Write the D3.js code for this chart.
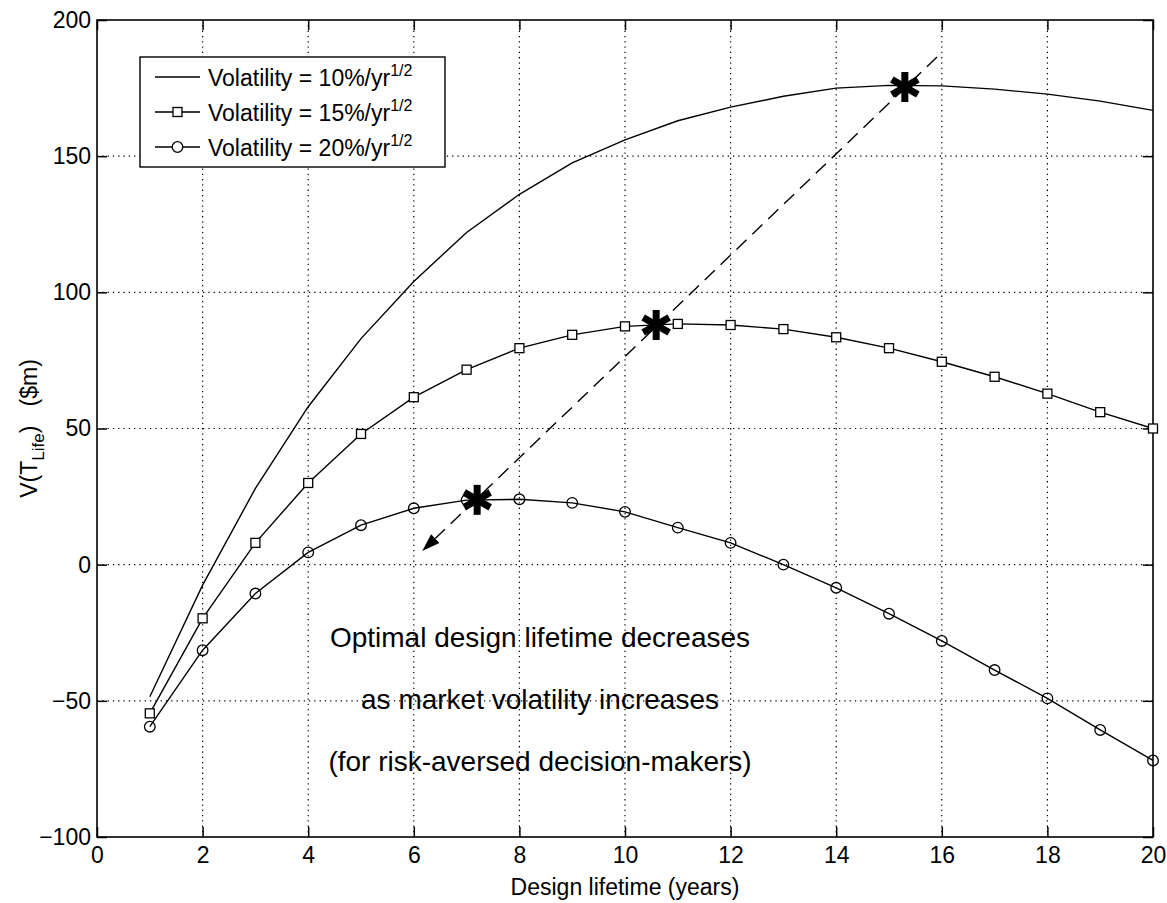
<!DOCTYPE html>
<html><head><meta charset="utf-8">
<script src="https://cdn.jsdelivr.net/npm/d3@7"></script>
<style>
body{margin:0;background:#fff}
text{font-family:"Liberation Sans",Arial,Helvetica,sans-serif;fill:#000}
</style></head>
<body>
<svg id="chart" width="1167" height="903"></svg>
<script>
// ---- data ----
const years = [1,2,3,4,5,6,7,8,9,10,11,12,13,14,15,16,17,18,19,20];
const vol10 = [-48.5,-7.5,28,58,83,104,122,136,147.5,156,163,168,172,175,176,175.8,174.6,172.8,170.2,166.8];
const vol15 = [-54.6,-19.7,8,30,48,61.5,71.6,79.5,84.4,87.5,88.4,88,86.5,83.5,79.5,74.5,69,62.8,56,50];
const vol20 = [-59.5,-31.4,-10.6,4.5,14.5,20.7,23.7,24,22.7,19.4,13.6,8,0,-8.5,-18,-28,-38.7,-49.1,-60.7,-71.9];
const seriesNames = ["Volatility = 10%/yr","Volatility = 15%/yr","Volatility = 20%/yr"];
const optimumX = [15.3,10.59,7.2];
const optimumY = [175.4,88.0,23.8];
const arrowFrom = [15.91,186.4];
const arrowTo = [6.16,5.0];
const xTickVals = [0,2,4,6,8,10,12,14,16,18,20];
const yTickVals = [-100,-50,0,50,100,150,200];
const noteLines = ["Optimal design lifetime decreases","as market volatility increases","(for risk-aversed decision-makers)"];
const xLabel = "Design lifetime (years)";

// ---- layout ----
const L=97,R=1153,T=20,B=837;
const svg=d3.select("#chart");
const x=d3.scaleLinear().domain([0,20]).range([L,R]);
const y=d3.scaleLinear().domain([-100,200]).range([B,T]);

// grid
const g=svg.append("g");
g.selectAll(".gx").data(xTickVals.slice(1,-1)).join("line")
 .attr("x1",d=>x(d)).attr("x2",d=>x(d)).attr("y1",T).attr("y2",B)
 .attr("stroke","#000").attr("stroke-width",1.2).attr("stroke-dasharray","1.3,4");
g.selectAll(".gy").data(yTickVals.slice(1,-1)).join("line")
 .attr("y1",d=>y(d)).attr("y2",d=>y(d)).attr("x1",L).attr("x2",R)
 .attr("stroke","#000").attr("stroke-width",1.2).attr("stroke-dasharray","1.3,4");

// axes
function styleAxis(sel){
  sel.select(".domain").remove();
  sel.selectAll(".tick line").attr("stroke","#000").attr("stroke-width",1.5);
  sel.selectAll(".tick text").attr("font-size",23).attr("font-family",'"Liberation Sans",Arial,sans-serif');
}
svg.append("g").attr("transform",`translate(0,${B})`)
 .call(d3.axisBottom(x).tickValues(xTickVals).tickSizeInner(-10).tickSizeOuter(0).tickPadding(10))
 .call(styleAxis);
svg.append("g").attr("transform",`translate(0,${T})`)
 .call(d3.axisTop(x).tickValues(xTickVals).tickSizeInner(-10).tickSizeOuter(0).tickFormat(""))
 .call(styleAxis);
svg.append("g").attr("transform",`translate(${L},0)`)
 .call(d3.axisLeft(y).tickValues(yTickVals).tickSizeInner(-10).tickSizeOuter(0).tickPadding(6))
 .call(styleAxis);
svg.append("g").attr("transform",`translate(${R},0)`)
 .call(d3.axisRight(y).tickValues(yTickVals).tickSizeInner(-10).tickSizeOuter(0).tickFormat(""))
 .call(styleAxis);
svg.append("rect").attr("x",L).attr("y",T).attr("width",R-L).attr("height",B-T)
 .attr("fill","none").attr("stroke","#000").attr("stroke-width",1.6);

// lines
const line=d3.line().x((d,i)=>x(years[i])).y(d=>y(d));
[vol10,vol15,vol20].forEach(s=>{
  svg.append("path").datum(s).attr("d",line).attr("fill","none").attr("stroke","#000").attr("stroke-width",1.4);
});
// markers
svg.selectAll(".sq").data(vol15).join("rect")
 .attr("x",(d,i)=>x(years[i])-4.5).attr("y",d=>y(d)-4.5).attr("width",9).attr("height",9)
 .attr("fill","#fff").attr("stroke","#000").attr("stroke-width",1.3);
svg.selectAll(".ci").data(vol20).join("circle")
 .attr("cx",(d,i)=>x(years[i])).attr("cy",d=>y(d)).attr("r",5.3)
 .attr("fill","none").attr("stroke","#000").attr("stroke-width",1.3);

// dashed arrow
const ax1=x(arrowFrom[0]),ay1=y(arrowFrom[1]),ax2=x(arrowTo[0]),ay2=y(arrowTo[1]);
const ang=Math.atan2(ay2-ay1,ax2-ax1);
const hl=18,hw=6;
const bx=ax2-hl*Math.cos(ang),by=ay2-hl*Math.sin(ang);
svg.append("line").attr("x1",ax1).attr("y1",ay1).attr("x2",bx).attr("y2",by)
 .attr("stroke","#000").attr("stroke-width",1.4).attr("stroke-dasharray","14,8");
svg.append("path")
 .attr("d",`M${ax2},${ay2}L${bx-hw*Math.sin(ang)},${by+hw*Math.cos(ang)}L${bx+hw*Math.sin(ang)},${by-hw*Math.cos(ang)}Z`)
 .attr("fill","#000");

// stars
optimumX.forEach((ox,i)=>{
  const cx=x(ox),cy=y(optimumY[i]);
  const sg=svg.append("g").attr("transform",`translate(${cx},${cy})`);
  [90,30,150].forEach(a=>{
    const r=a*Math.PI/180,len=15;
    sg.append("line").attr("x1",-len*Math.cos(r)).attr("y1",-len*Math.sin(r))
      .attr("x2",len*Math.cos(r)).attr("y2",len*Math.sin(r))
      .attr("stroke","#000").attr("stroke-width",7);
  });
});

// legend
const lg=svg.append("g");
lg.append("rect").attr("x",140).attr("y",57).attr("width",305).attr("height",110)
 .attr("fill","#fff").attr("stroke","#000").attr("stroke-width",1.4);
const rowY=[77,112,147];
seriesNames.forEach((nm,i)=>{
  lg.append("line").attr("x1",155).attr("x2",200).attr("y1",rowY[i]).attr("y2",rowY[i])
    .attr("stroke","#000").attr("stroke-width",1.4);
  if(i===1) lg.append("rect").attr("x",173).attr("y",rowY[i]-4.5).attr("width",9).attr("height",9)
    .attr("fill","#fff").attr("stroke","#000").attr("stroke-width",1.3);
  if(i===2) lg.append("circle").attr("cx",177.5).attr("cy",rowY[i]).attr("r",5.3)
    .attr("fill","#fff").attr("stroke","#000").attr("stroke-width",1.3);
  const t=lg.append("text").attr("x",208).attr("y",rowY[i]+9).attr("font-size",23);
  t.append("tspan").text(nm);
  t.append("tspan").attr("font-size",16).attr("dy",-10).text("1/2");
});

// annotation
noteLines.forEach((s,i)=>{
  svg.append("text").attr("x",540).attr("y",[647,709,771][i]).attr("text-anchor","middle")
   .attr("font-size",28).text(s);
});

// axis labels
svg.append("text").attr("x",(L+R)/2).attr("y",895).attr("text-anchor","middle")
 .attr("font-size",23).text(xLabel);
const yl=svg.append("text").attr("transform",`translate(37,${(T+B)/2}) rotate(-90)`)
 .attr("text-anchor","middle").attr("font-size",23);
yl.append("tspan").text("V(T");
yl.append("tspan").attr("font-size",17).attr("dy",7).text("Life");
yl.append("tspan").attr("dy",-7).text(")\u00a0\u00a0\u00a0($m)");
</script>
</body></html>
